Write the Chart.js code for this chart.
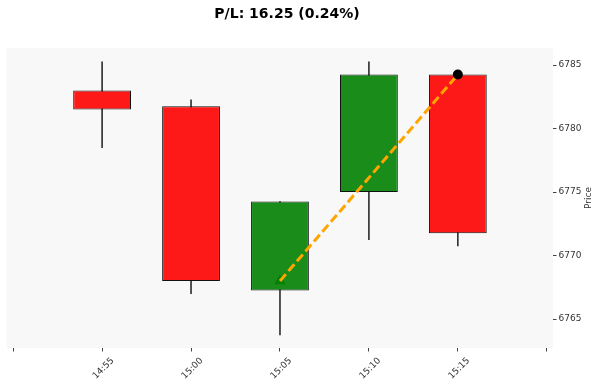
<!DOCTYPE html>
<html><head><meta charset="utf-8">
<script src="https://cdn.jsdelivr.net/npm/chart.js@4.4.0/dist/chart.umd.min.js"></script>
<style>html,body{margin:0;padding:0;background:#fff;}</style>
</head><body>
<canvas id="c" width="599" height="384"></canvas>
<script>
// ---- data ----
const tickLabels = ['', '14:55', '15:00', '15:05', '15:10', '15:15', ''];
const candleSlots = [1, 2, 3, 4, 5];
const openPrices  = [6783.00, 6781.75, 6767.25, 6775.00, 6784.25];
const highPrices  = [6785.25, 6782.25, 6774.25, 6785.25, 6784.25];
const lowPrices   = [6778.50, 6767.00, 6763.75, 6771.25, 6770.75];
const closePrices = [6781.50, 6768.00, 6774.25, 6784.25, 6771.75];
const priceTicks  = [6765, 6770, 6775, 6780, 6785];
const entrySlot = 3, entryPrice = 6768.00;
const exitSlot = 5, exitPrice = 6784.25;
const titleText = 'P/L: 16.25 (0.24%)';
const yAxisTitle = 'Price';

const FONT = 'DejaVu Sans';
const upColor = '#198c19';
const downColor = '#fe1919';

const bgPlugin = {
  id: 'bg',
  beforeDraw(chart) {
    const {ctx, chartArea: a} = chart;
    ctx.save();
    ctx.fillStyle = '#ffffff';
    ctx.fillRect(0, 0, chart.width, chart.height);
    ctx.fillStyle = '#f8f8f8';
    ctx.fillRect(a.left, a.top, a.right - a.left, a.bottom - a.top);
    ctx.restore();
  }
};
const textPlugin = {
  id: 'texts',
  afterDraw(chart) {
    const {ctx, chartArea: a} = chart;
    ctx.save();
    ctx.fillStyle = '#000';
    ctx.font = 'bold 14px "' + FONT + '"';
    ctx.textAlign = 'center';
    ctx.textBaseline = 'alphabetic';
    ctx.fillText(titleText, 287, 17.5);
    ctx.font = '9px "' + FONT + '"';
    ctx.fillStyle = '#333';
    ctx.translate(589, (a.top + a.bottom) / 2);
    ctx.rotate(-Math.PI / 2);
    ctx.textBaseline = 'middle';
    ctx.fillText(yAxisTitle, 0, 0);
    ctx.restore();
  }
};

const gridOpts = {display: true, drawOnChartArea: false, drawTicks: true, tickLength: 3.5, color: '#444', offset: false};

new Chart(document.getElementById('c'), {
  type: 'bar',
  data: {
    datasets: [
      {
        label: 'wick', order: 5, grouped: false,
        data: candleSlots.map((s, i) => ({x: s, y: [lowPrices[i], highPrices[i]]})),
        backgroundColor: '#333', borderWidth: 0, barThickness: 1
      },
      {
        label: 'body', order: 4, grouped: false,
        data: candleSlots.map((s, i) => ({x: s, y: [openPrices[i], closePrices[i]]})),
        backgroundColor: candleSlots.map((s, i) => closePrices[i] >= openPrices[i] ? upColor : downColor),
        borderColor: '#111', borderWidth: 1, borderSkipped: false,
        categoryPercentage: 1, barPercentage: 0.65
      },
      {
        type: 'line', label: 'entry', order: 3, showLine: false,
        data: [{x: entrySlot, y: entryPrice}],
        pointStyle: 'triangle', pointRadius: 6.5, pointBackgroundColor: 'green', pointBorderWidth: 0
      },
      {
        type: 'line', label: 'trade', order: 2,
        data: [{x: entrySlot, y: entryPrice}, {x: exitSlot, y: exitPrice}],
        borderColor: 'orange', borderWidth: 3, borderDash: [9, 4], pointRadius: 0, fill: false
      },
      {
        type: 'line', label: 'exit', order: 1, showLine: false,
        data: [{x: exitSlot, y: exitPrice}],
        pointStyle: 'circle', pointRadius: 5, pointBackgroundColor: '#000', pointBorderWidth: 0
      }
    ]
  },
  options: {
    responsive: false, animation: false, devicePixelRatio: 1,
    layout: {padding: {left: 6, top: 48, right: 0, bottom: 0}},
    plugins: {legend: {display: false}, tooltip: {enabled: false}, title: {display: false}},
    scales: {
      x: {
        type: 'linear', min: -0.075, max: 6.07, offset: false,
        afterBuildTicks: s => { s.ticks = tickLabels.map((_, i) => ({value: i})); },
        afterFit: s => { s.height = 36; },
        grid: gridOpts, border: {display: false},
        ticks: {autoSkip: false, minRotation: 45, maxRotation: 45, padding: 4, labelOffset: 10.5, color: '#333',
          font: {family: FONT, size: 9}, callback: (v, i) => tickLabels[i]}
      },
      y: {
        position: 'right', min: 6762.72, max: 6786.34, beginAtZero: false,
        afterBuildTicks: s => { s.ticks = priceTicks.map(v => ({value: v})); },
        afterFit: s => { s.width = 46; },
        grid: gridOpts, border: {display: false},
        ticks: {padding: 2, color: '#333', font: {family: FONT, size: 9}, callback: v => String(v)}
      }
    }
  },
  plugins: [bgPlugin, textPlugin]
});
</script>
</body></html>
